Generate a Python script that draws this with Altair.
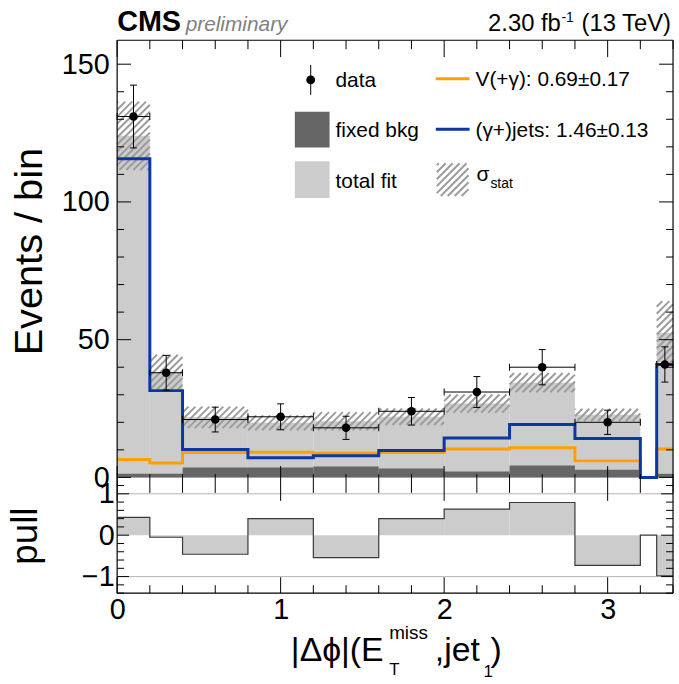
import altair as alt
import pandas as pd
import numpy as np

# ---------------- data ----------------
edges = [0.0, 0.2, 0.4, 0.8, 1.2, 1.6, 2.0, 2.4, 2.8, 3.2, 3.3, 3.4]
data_counts = [131, 38, 21, 22, 18, 24, 31, 40, 20, 0, 41]
data_err = [11.4, 6.3, 4.5, 4.7, 4.2, 5.0, 5.6, 6.4, 4.4, 0.0, 6.4]
total_fit = [124.0, 38.2, 21.8, 19.8, 20.4, 22.0, 26.8, 34.4, 22.7, 0.0, 52.5]
stat_err = [12.4, 6.3, 3.9, 2.7, 3.3, 3.0, 3.3, 3.5, 2.2, 0.0, 11.5]
gjets = [115.7, 31.5, 10.1, 7.1, 7.9, 9.8, 14.3, 19.2, 14.1, 0.0, 41.0]
vgamma = [6.5, 5.2, 9.0, 9.1, 8.8, 9.0, 10.3, 10.8, 6.0, 0.0, 10.3]
fixed_bkg = [1.3, 1.3, 3.6, 3.6, 4.0, 3.2, 2.1, 4.3, 2.8, 0.0, 1.3]
pull = [0.43, -0.05, -0.46, 0.40, -0.54, 0.40, 0.63, 0.79, -0.73, 0.0, -0.98]

x_major = [0, 1, 2, 3]
x_minor = [0.2, 0.4, 0.6, 0.8, 1.2, 1.4, 1.6, 1.8, 2.2, 2.4, 2.6, 2.8, 3.2, 3.4]
y_major = [0, 50, 100, 150]
y_minor = [10, 20, 30, 40, 60, 70, 80, 90, 110, 120, 130, 140]
p_major = [-1, 0, 1]
p_minor = [-1.4, -1.2, -0.8, -0.6, -0.4, -0.2, 0.2, 0.4, 0.6, 0.8, 1.2]
p_grid = [-1, 1]

# ---------------- layout / style ----------------
W = 560
H_TOP = 449
H_PULL = 108
LEFT = 118
TOP = 38
BOTTOM = 89
X_DOM = [0.0, 3.4]
Y_DOM = [-3.1, 158.7]
P_DOM = [-1.4, 1.19]
FONT = "Liberation Sans"
C_FIT = "#cccccc"
C_FIX = "#666666"
C_HATCH = "#9c9c9c"
C_ORANGE = "#ffa000"
C_BLUE = "#0b36a3"

kx = W / (X_DOM[1] - X_DOM[0])
ky = H_TOP / (Y_DOM[1] - Y_DOM[0])

xs = alt.Scale(domain=X_DOM, nice=False, zero=False)
ys = alt.Scale(domain=Y_DOM, nice=False, zero=False)
ps = alt.Scale(domain=P_DOM, nice=False, zero=False)

y_axis_top = alt.Axis(values=y_major, ticks=False, domain=False, grid=False, title=None,
                      labelFont=FONT, labelFontSize=29, labelColor="black", labelPadding=8,
                      labelOverlap=False, labelFlush=False)
x_axis_pull = alt.Axis(values=x_major, ticks=False, domain=False, grid=False, title=None,
                       labelFont=FONT, labelFontSize=29, labelColor="black", labelPadding=3,
                       labelOverlap=False, labelFlush=False, format="d")
p_axis = alt.Axis(values=p_major, ticks=False, domain=False, grid=False, title=None,
                  labelFont=FONT, labelFontSize=29, labelColor="black", labelPadding=3,
                  labelOverlap=False, labelFlush=False,
                  labelExpr="datum.value < 0 ? '\u2212' + format(-datum.value, 'd') : format(datum.value, 'd')")


def XT(f):
    return alt.X(f, type="quantitative", scale=xs, axis=None)


def YT(f):
    return alt.Y(f, type="quantitative", scale=ys, axis=y_axis_top)


def XP(f):
    return alt.X(f, type="quantitative", scale=xs, axis=x_axis_pull)


def YP(f):
    return alt.Y(f, type="quantitative", scale=ps, axis=p_axis)


lo = edges[:-1]
hi = edges[1:]
bins = pd.DataFrame({
    "lo": lo, "hi": hi,
    "xc": [(a + b) / 2 for a, b in zip(lo, hi)],
    "data": data_counts, "derr": data_err,
    "fit": total_fit, "serr": stat_err,
    "fixed": fixed_bkg, "pull": pull,
})
bins["zero"] = 0.0
bins["dlo"] = bins["data"] - bins["derr"]
bins["dhi"] = bins["data"] + bins["derr"]
bins["blo"] = bins["fit"] - bins["serr"]
bins["bhi"] = bins["fit"] + bins["serr"]
pts = bins[bins["data"] > 0]


def step_frame(vals):
    return pd.DataFrame({"x": edges, "y": list(vals) + [vals[-1]]})


# hatch pattern for the stat band (45 degree stripes in screen space)
PERIOD = 7.0


def hatch(x0, x1, y0, y1):
    px0, px1 = (x0 - X_DOM[0]) * kx, (x1 - X_DOM[0]) * kx
    pt, pb = (Y_DOM[1] - y1) * ky, (Y_DOM[1] - y0) * ky
    segs = []
    c = np.floor((px0 + pt) / PERIOD) * PERIOD
    while c <= px1 + pb:
        xa = max(px0, c - pb)
        xb = min(px1, c - pt)
        if xb - xa > 0.3:
            segs.append({"hx": xa / kx + X_DOM[0], "hy": Y_DOM[1] - (c - xa) / ky,
                         "hx2": xb / kx + X_DOM[0], "hy2": Y_DOM[1] - (c - xb) / ky})
        c += PERIOD
    return segs


hseg = []
for r in bins.itertuples():
    if r.serr > 0:
        hseg += hatch(r.lo, r.hi, r.blo, r.bhi)
hatch_df = pd.DataFrame(hseg)

# legend hatch swatch (pixel box converted to data units)
LBOX = (322, 354, 124, 157)
leg_hatch_df = pd.DataFrame(hatch(LBOX[0] / kx, LBOX[1] / kx,
                                  Y_DOM[1] - LBOX[3] / ky, Y_DOM[1] - LBOX[2] / ky))

one = pd.DataFrame({"z": [0]})

# ---------------- top panel ----------------
fit_rect = alt.Chart(bins).mark_rect(color=C_FIT).encode(x=XT("lo"), x2="hi", y=YT("zero"), y2="fit")
hatch_l = alt.Chart(hatch_df).mark_rule(color=C_HATCH, strokeWidth=2).encode(
    x=XT("hx"), y=YT("hy"), x2="hx2", y2="hy2")
fix_rect = alt.Chart(bins).mark_rect(color=C_FIX).encode(x=XT("lo"), x2="hi", y=YT("zero"), y2="fixed")
orange_l = alt.Chart(step_frame(vgamma)).mark_line(interpolate="step-after", color=C_ORANGE,
                                                   strokeWidth=3).encode(x=XT("x"), y=YT("y"))
blue_l = alt.Chart(step_frame(gjets)).mark_line(interpolate="step-after", color=C_BLUE,
                                                strokeWidth=3).encode(x=XT("x"), y=YT("y"))
err_v = alt.Chart(pts).mark_rule(color="black", strokeWidth=1).encode(x=XT("xc"), y=YT("dlo"), y2="dhi")
err_h = alt.Chart(pts).mark_rule(color="black", strokeWidth=1).encode(x=XT("lo"), x2="hi", y=YT("data"))
cap_t = alt.Chart(pts).mark_tick(orient="horizontal", size=7, thickness=1, color="black",
                                 opacity=1).encode(x=XT("xc"), y=YT("dhi"))
cap_b = alt.Chart(pts).mark_tick(orient="horizontal", size=7, thickness=1, color="black",
                                 opacity=1).encode(x=XT("xc"), y=YT("dlo"))
cap_l = alt.Chart(pts).mark_tick(orient="vertical", size=7, thickness=1, color="black",
                                 opacity=1).encode(x=XT("lo"), y=YT("data"))
cap_r = alt.Chart(pts).mark_tick(orient="vertical", size=7, thickness=1, color="black",
                                 opacity=1).encode(x=XT("hi"), y=YT("data"))
dots = alt.Chart(pts).mark_circle(color="black", size=75, opacity=1).encode(x=XT("xc"), y=YT("data"))


def tick_layers(df_major, df_minor, field, horiz, height, width, maj_len, min_len, xenc, yenc):
    out = []
    for vals, L in ((df_major, maj_len), (df_minor, min_len)):
        d = pd.DataFrame({field: vals})
        if horiz:  # ticks along x axis (top and bottom)
            out.append(alt.Chart(d).mark_rule(color="black", strokeWidth=1).encode(
                x=xenc(field), y=alt.value(height), y2=alt.value(height - L[1])))
            out.append(alt.Chart(d).mark_rule(color="black", strokeWidth=1).encode(
                x=xenc(field), y=alt.value(0), y2=alt.value(L[0])))
        else:  # ticks along y axis (left and right)
            out.append(alt.Chart(d).mark_rule(color="black", strokeWidth=1).encode(
                y=yenc(field), x=alt.value(0), x2=alt.value(L[0])))
            out.append(alt.Chart(d).mark_rule(color="black", strokeWidth=1).encode(
                y=yenc(field), x=alt.value(width), x2=alt.value(width - L[1])))
    return out


top_ticks = (tick_layers(x_major, x_minor, "t", True, H_TOP, W, (17, 20), (9, 12), XT, YT)
             + tick_layers(y_major, y_minor, "t", False, H_TOP, W, (14, 14), (7, 7), XT, YT))

frame_top = [
    alt.Chart(one).mark_rule(color="black", strokeWidth=1.2).encode(
        x=alt.value(0), x2=alt.value(W), y=alt.value(0)),
    alt.Chart(one).mark_rule(color="black", strokeWidth=1.2).encode(
        x=alt.value(0), y=alt.value(0), y2=alt.value(H_TOP)),
    alt.Chart(one).mark_rule(color="black", strokeWidth=1.2).encode(
        x=alt.value(W), y=alt.value(0), y2=alt.value(H_TOP)),
    # invisible anchor fixing the top-left corner of the whole picture
    alt.Chart(one).mark_rule(opacity=0, strokeWidth=0.1).encode(
        x=alt.value(-LEFT), x2=alt.value(-LEFT + 1), y=alt.value(-TOP)),
]


def txt(s, x, y, size, align="left", **kw):
    return alt.Chart(one).mark_text(text=s, align=align, baseline="alphabetic", font=FONT,
                                    fontSize=size, color=kw.pop("color", "black"), **kw).encode(
        x=alt.value(x), y=alt.value(y))


legend = [
    alt.Chart(one).mark_rule(color="black", strokeWidth=1).encode(
        x=alt.value(195), y=alt.value(25), y2=alt.value(55)),
    alt.Chart(one).mark_circle(color="black", size=80, opacity=1).encode(x=alt.value(195), y=alt.value(40)),
    txt("data", 220, 47, 21),
    alt.Chart(one).mark_rect(color=C_FIX).encode(x=alt.value(179), x2=alt.value(214),
                                                  y=alt.value(72), y2=alt.value(108)),
    txt("fixed bkg", 220, 97, 21),
    alt.Chart(one).mark_rect(color=C_FIT).encode(x=alt.value(179), x2=alt.value(214),
                                                  y=alt.value(122), y2=alt.value(159)),
    txt("total fit", 220, 149, 21),
    alt.Chart(one).mark_rule(color=C_ORANGE, strokeWidth=3).encode(
        x=alt.value(321), x2=alt.value(355), y=alt.value(38.7)),
    txt("V(+\u03b3): 0.69\u00b10.17", 361, 46, 21),
    alt.Chart(one).mark_rule(color=C_BLUE, strokeWidth=3).encode(
        x=alt.value(321), x2=alt.value(355), y=alt.value(89.7)),
    txt("(\u03b3+)jets: 1.46\u00b10.13", 361, 97, 21),
    alt.Chart(leg_hatch_df).mark_rule(color=C_HATCH, strokeWidth=2).encode(
        x=XT("hx"), y=YT("hy"), x2="hx2", y2="hy2"),
    txt("\u03c3", 362, 142, 21),
    txt("stat", 376, 149, 14),
]

header = [
    txt("CMS", 0, -9, 29, fontWeight="bold"),
    txt("preliminary", 69, -9, 21, fontStyle="italic", color="#808080"),
    txt("(13 TeV)", 558, -9, 24, align="right"),
    txt("-1", 460, -18, 14, align="right"),
    txt("2.30 fb", 447, -9, 24, align="right"),
    alt.Chart(one).mark_text(text="Events / bin", angle=270, align="center", baseline="alphabetic",
                             font=FONT, fontSize=40, color="black").encode(
        x=alt.value(-76), y=alt.value(213)),
]

top = alt.layer(fit_rect, hatch_l, fix_rect, orange_l, blue_l, err_v, err_h,
                cap_t, cap_b, cap_l, cap_r, dots, *top_ticks, *frame_top, *legend, *header
                ).properties(width=W, height=H_TOP)

# ---------------- pull panel ----------------
grid = alt.Chart(pd.DataFrame({"g": p_grid})).mark_rule(color="#b4b4b4", strokeWidth=1).encode(
    y=YP("g"), x=alt.value(0), x2=alt.value(W))
pull_rect = alt.Chart(bins).mark_rect(color=C_FIT).encode(x=XP("lo"), x2="hi", y=YP("zero"), y2="pull")
pull_line = alt.Chart(step_frame(pull)).mark_line(interpolate="step-after", color="#3a3a3a",
                                                  strokeWidth=1.2).encode(x=XP("x"), y=YP("y"))
pull_ticks = (tick_layers(x_major, x_minor, "t", True, H_PULL, W, (15, 16), (7, 8), XP, YP)
              + tick_layers(p_major, p_minor, "t", False, H_PULL, W, (12, 12), (7, 7), XP, YP))
frame_pull = [
    alt.Chart(one).mark_rule(color="black", strokeWidth=1.2).encode(
        x=alt.value(0), x2=alt.value(W), y=alt.value(H_PULL)),
    alt.Chart(one).mark_rule(color="black", strokeWidth=1.2).encode(
        x=alt.value(0), y=alt.value(0), y2=alt.value(H_PULL)),
    alt.Chart(one).mark_rule(color="black", strokeWidth=1.2).encode(
        x=alt.value(W), y=alt.value(0), y2=alt.value(H_PULL)),
    # invisible anchor fixing the bottom-right corner of the whole picture
    alt.Chart(one).mark_rule(opacity=0, strokeWidth=0.1).encode(
        x=alt.value(W), x2=alt.value(W + 1), y=alt.value(H_PULL + BOTTOM)),
]
pull_text = [
    alt.Chart(one).mark_text(text="pull", angle=270, align="center", baseline="alphabetic",
                             font=FONT, fontSize=37, color="black").encode(
        x=alt.value(-81), y=alt.value(50.5)),
    txt("|\u0394\u03d5|(E", 175, 176, 34),
    txt("miss", 274, 154, 19),
    txt("T", 274, 190, 17),
    txt(",jet", 320, 176, 34),
    txt("1", 369, 192, 17),
    txt(")", 376, 176, 34),
]

pull_panel = alt.layer(grid, pull_rect, pull_line, *pull_ticks, *frame_pull, *pull_text
                       ).properties(width=W, height=H_PULL)

chart = alt.vconcat(top, pull_panel, spacing=0, bounds="flush").properties(
    autosize=alt.AutoSizeParams(type="pad"),
    padding=0,
    background="white",
).configure_view(strokeOpacity=0)

chart.save("out.html", embed_options={"renderer": "svg", "actions": False})
